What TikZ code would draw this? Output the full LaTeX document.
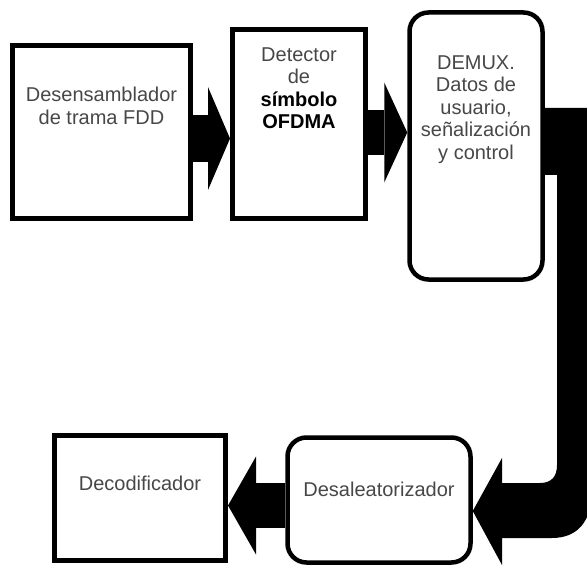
\documentclass[tikz,border=0pt]{standalone}
\usepackage{fontspec}
\setmainfont{Liberation Sans}
\usetikzlibrary{positioning,arrows.meta}
\begin{document}
\begin{tikzpicture}[x=1pt,y=-1pt,
  bloque/.style={draw,line width=5pt,inner sep=0pt},
  bloquer/.style={draw,line width=4.5pt,inner sep=0pt,rounded corners=19pt},
  txt/.style={font=\fontsize{20}{22.5}\selectfont,text=black!72,align=center,inner sep=0pt,anchor=north}]
\useasboundingbox (0,0) rectangle (587,567);
\clip (0,0) rectangle (587,567);
% bloques
\node[bloque,minimum width=178pt,minimum height=173pt] (d1) at (101.5,132) {};
\node[bloque,minimum width=133pt,minimum height=189pt] (d2) at (299,124) {};
\node[bloquer,minimum width=133pt,minimum height=267pt] (d3) at (476,146) {};
\node[bloquer,minimum width=183pt,minimum height=125pt] (d4) at (379,500) {};
\node[bloque,minimum width=171pt,minimum height=125pt] (d5) at (140,498) {};
% textos
\node[txt,below=44pt of d1.north] (t1) {Desensamblador\\de trama FDD};
\node[txt,below=20.5pt of d2.north] (t2) {Detector\\de\\\textcolor{black}{\bfseries símbolo}\\\textcolor{black}{\bfseries OFDMA}};
\node[txt,below=45pt of d3.north] (t3) {DEMUX.\\Datos de\\usuario,\\señalización\\y control};
\node[txt,below=47pt of d4.north] (t4) {Desaleatorizador};
\node[txt,below=43pt of d5.north] (t5) {Decodificador};
% flechas
\draw[line width=47pt,-{Triangle[length=22pt,width=103pt,line width=0pt]}] (d1.east |- 0,138.5) -- (d2.west |- 0,138.5);
\draw[line width=45pt,-{Triangle[length=23pt,width=100pt,line width=0pt]}] (d2.east |- 0,132.5) -- (d3.west |- 0,132.5);
\draw[line width=45pt,-{Triangle[length=28pt,width=98pt,line width=0pt]}] (d4.west |- 0,505.5) -- (d5.east |- 0,505.5);
\fill (d3.east |- 0,108) -- (592,108) -- (592,490) .. controls (592,522) and (577,538) .. (552,538)
  -- (502,538) -- (502,565) -- (d4.east |- 0,511) -- (502,458) -- (502,483) -- (540,483)
  .. controls (552,483) and (557,476) .. (557,465) -- (557,175) -- (d3.east |- 0,175) -- cycle;
\end{tikzpicture}
\end{document}
